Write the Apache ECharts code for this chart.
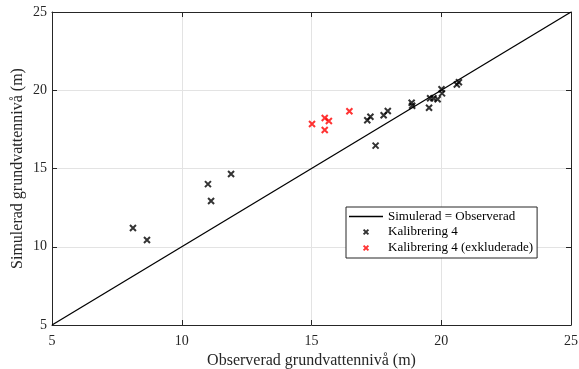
<!DOCTYPE html>
<html>
<head>
<meta charset="utf-8">
<script src="https://cdn.jsdelivr.net/npm/echarts@6/dist/echarts.min.js"></script>
<style>
  html, body { margin: 0; padding: 0; background: #fff; }
  #chart { width: 579px; height: 369px; }
</style>
</head>
<body>
<div id="chart"></div>
<script>
// observed vs simulated groundwater levels (m)
const kalibObs = [8.12, 8.66, 11.01, 11.13, 11.9, 17.15, 17.27, 17.78, 17.94, 17.47,
  18.86, 18.88, 19.53, 19.57, 19.7, 19.86, 20.01, 20.03, 20.6, 20.68];
const kalibSim = [11.2, 10.43, 14.0, 12.92, 14.65, 18.08, 18.31, 18.4, 18.67, 16.46,
  19.2, 19.01, 18.88, 19.49, 19.49, 19.42, 20.06, 19.8, 20.37, 20.51];
const exclObs = [15.02, 15.51, 15.67, 15.51, 16.46];
const exclSim = [17.84, 18.23, 18.04, 17.46, 18.66];
const lineEnds = [5, 25];
const axisMin = 5, axisMax = 25, tickStep = 5;

const font = "'Liberation Serif', 'Times New Roman', serif";
const xMark = "path://M0,0L10,10M10,0L0,10";
// small cross inside a larger (invisible) box, for the legend
const xMarkLegend = "path://M0,0L0,0M24,14L24,14M9.2,4.2L14.8,9.8M14.8,4.2L9.2,9.8";

const chart = echarts.init(document.getElementById("chart"));

const baseAxis = {
  type: "value",
  min: axisMin,
  max: axisMax,
  interval: tickStep,
  axisLine: { lineStyle: { color: "#262626", width: 1 } },
  axisTick: { inside: true, length: 5, lineStyle: { color: "#262626" } },
  axisLabel: { color: "#262626", fontFamily: font, fontSize: 14 },
  splitLine: { show: true, lineStyle: { color: "#e3e3e3", width: 1 } },
};

chart.setOption({
  animation: false,
  backgroundColor: "#fff",
  grid: { left: 52, right: 8, top: 12, bottom: 44, outerBoundsMode: "none", containLabel: false },
  xAxis: [
    {
      ...baseAxis,
      name: "Observerad grundvattennivå (m)",
      nameLocation: "middle",
      nameGap: 28,
      nameTextStyle: { color: "#262626", fontFamily: font, fontSize: 16 },
      axisLabel: { ...baseAxis.axisLabel, margin: 9 },
    },
    {
      ...baseAxis,
      position: "top",
      axisLabel: { show: false },
      splitLine: { show: false },
    },
  ],
  yAxis: [
    {
      ...baseAxis,
      name: "Simulerad grundvattennivå (m)",
      nameLocation: "middle",
      nameGap: 26,
      nameMoveOverlap: false,
      nameTextStyle: { color: "#262626", fontFamily: font, fontSize: 16 },
      axisLabel: { ...baseAxis.axisLabel, margin: 5 },
    },
    {
      ...baseAxis,
      position: "right",
      axisLabel: { show: false },
      splitLine: { show: false },
    },
  ],
  legend: {
    orient: "vertical",
    left: 346,
    top: 207,
    padding: [3, 4, 3, 3],
    itemGap: 2,
    itemWidth: 34,
    itemHeight: 12,
    backgroundColor: "#fff",
    borderColor: "#262626",
    borderWidth: 1,
    borderRadius: 0,
    textStyle: { fontFamily: font, fontSize: 13, color: "#000" },
    data: [
      { name: "Simulerad = Observerad", icon: "path://M0,0L34,0L34,1.3L0,1.3Z", itemStyle: { color: "#000" } },
      { name: "Kalibrering 4", icon: xMarkLegend },
      { name: "Kalibrering 4 (exkluderade)", icon: xMarkLegend },
    ],
  },
  series: [
    {
      name: "Simulerad = Observerad",
      type: "line",
      data: lineEnds.map((v) => [v, v]),
      symbol: "none",
      lineStyle: { color: "#000", width: 1.3 },
      z: 1,
    },
    {
      name: "Kalibrering 4",
      type: "scatter",
      data: kalibObs.map((x, i) => [x, kalibSim[i]]),
      symbol: xMark,
      symbolSize: 6,
      itemStyle: { color: "transparent", borderColor: "#000", borderWidth: 2 },
      z: 3,
    },
    {
      name: "Kalibrering 4 (exkluderade)",
      type: "scatter",
      data: exclObs.map((x, i) => [x, exclSim[i]]),
      symbol: xMark,
      symbolSize: 6,
      itemStyle: { color: "transparent", borderColor: "#ff0000", borderWidth: 2 },
      z: 3,
    },
  ],
});
</script>
</body>
</html>
